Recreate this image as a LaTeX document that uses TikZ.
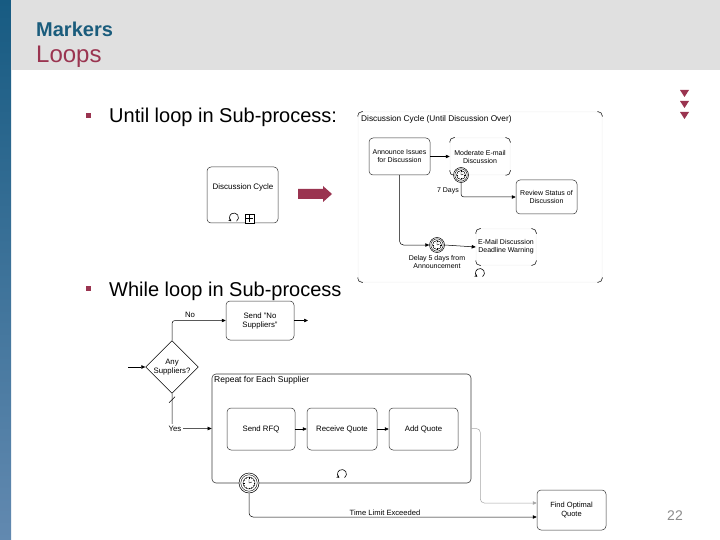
\documentclass[tikz,border=0pt]{standalone}
\usepackage{fontspec}
\setmainfont{Liberation Sans}
\usetikzlibrary{shapes.geometric,arrows.meta,calc}
\definecolor{barTop}{HTML}{175B82}
\definecolor{barBot}{HTML}{6289B0}
\definecolor{hdrgray}{HTML}{E0E0E0}
\definecolor{mkblue}{HTML}{1A5C7C}
\definecolor{crim}{HTML}{9A3450}
\newcommand\dsz{\fontsize{7}{8}\selectfont}
\newcommand\bsz{\fontsize{7.8}{9}\selectfont}
\newcommand\clockface[2]{%
 \draw[line width=0.4pt] (#1.center) circle[radius=#2*0.82pt];
 \draw[line width=0.4pt] (#1.center) circle[radius=#2*0.6pt];
 \foreach \a in {0,30,...,330}{\draw[line width=0.3pt] ($(#1.center)+(\a:#2*0.45pt)$) -- ($(#1.center)+(\a:#2*0.6pt)$);}
 \draw[line width=0.4pt] (#1.center) -- ++(0pt,#2*0.42pt) (#1.center) -- ++(#2*0.3pt,#2*0.1pt);
}
\newcommand\loopmark[1]{\draw[line width=0.6pt,-{Stealth[length=2.8pt,width=3pt]}] ($(#1)+(-55:4.5pt)$) arc[start angle=-55, end angle=235, radius=4.5pt];}
\newcommand\cornerify[2]{%
 \draw[line width=0.5pt, rounded corners=4pt] ([yshift=-#2]#1.north west) -- (#1.north west) -- ([xshift=#2]#1.north west);
 \draw[line width=0.5pt, rounded corners=4pt] ([xshift=-#2]#1.north east) -- (#1.north east) -- ([yshift=-#2]#1.north east);
 \draw[line width=0.5pt, rounded corners=4pt] ([yshift=#2]#1.south west) -- (#1.south west) -- ([xshift=#2]#1.south west);
 \draw[line width=0.5pt, rounded corners=4pt] ([xshift=-#2]#1.south east) -- (#1.south east) -- ([yshift=#2]#1.south east);
}
\begin{document}
\begin{tikzpicture}[x=1pt,y=-1pt,
  every node/.style={inner sep=0pt},
  tsk/.style={draw=black!80, line width=0.5pt, rounded corners=4pt, align=center, font=\dsz, fill=white},
  fad/.style={draw=black!6, line width=0.5pt, rounded corners=4pt, align=center, font=\dsz},
  arr/.style={-{Triangle[length=4pt,width=3.5pt]}, line width=0.5pt},
  lbl/.style={font=\dsz, align=center},
  tmr/.style={circle, draw, line width=0.5pt, fill=white, minimum size=#1, inner sep=0pt},
]
\useasboundingbox (0,0) rectangle (720,540);
\fill[white] (0,0) rectangle (720,540);
\shade[top color=barTop, bottom color=barBot] (0,0) rectangle (11,540);
\fill[hdrgray] (11,0) rectangle (720,70);
% header
\node[anchor=base west, font=\fontsize{20}{22}\selectfont\bfseries, text=mkblue] (ttlM) at (36,37) {Markers};
\node[anchor=base west, font=\fontsize{24}{28}\selectfont, text=crim] (ttlL) at (36,63) {Loops};
% triangles
\foreach \yy in {90,101,112}{\fill[crim] (680,\yy) -- (689,\yy) -- (684.5,\yy+7) -- cycle;}
% bullets
\fill[crim] (86,113) rectangle (91,118);
\node[anchor=base west, font=\fontsize{20}{24}\selectfont] (b1) at (109,123) {Until loop in Sub-process:};
\fill[crim] (86,286) rectangle (91,291);
\node[anchor=base west, font=\fontsize{20}{24}\selectfont] (b2) at (109,296) {While loop in Sub-process};
% collapsed sub-process
\node[tsk, minimum width=71pt, minimum height=56pt] (dcc) at (242.5,195) {};
\node[lbl, font=\fontsize{8}{9}\selectfont] (dcct) at (243,187) {Discussion Cycle};
\loopmark{234,217.5}
\node[draw, line width=0.5pt, minimum size=9pt, fill=white] (plus) at (249.5,218.5) {};
\draw[line width=0.5pt] ([yshift=-1.2pt]plus.north) -- ([yshift=1.2pt]plus.south) ([xshift=1.2pt]plus.west) -- ([xshift=-1.2pt]plus.east);
% fat arrow
\fill[crim] (298,189) -- (323,189) -- (323,186) -- (332,194) -- (323,202) -- (323,199) -- (298,199) -- cycle;
% expanded until-loop sub-process
\node[fad, minimum width=244pt, minimum height=170pt, rounded corners=6pt] (dc) at (480,197) {};
\cornerify{dc}{5pt}
\node[lbl, anchor=west, font=\fontsize{8.3}{9}\selectfont] (dct) at (361,119) {Discussion Cycle (Until Discussion Over)};
\node[tsk, minimum width=61pt, minimum height=37pt] (ann) at (399.5,156.5) {Announce Issues\\for Discussion};
\node[fad, minimum width=60pt, minimum height=37pt] (mod) at (480,156.5) {Moderate E-mail\\Discussion};
\cornerify{mod}{5pt}
\node[tsk, minimum width=61pt, minimum height=34pt] (rev) at (546.5,197) {Review Status of\\Discussion};
\node[fad, minimum width=60pt, minimum height=36pt] (dl) at (506,247) {E-Mail Discussion\\Deadline Warning};
\cornerify{dl}{5pt}
\draw[arr] (ann) -- (mod);
\node[tmr=15pt] (t7) at (461,175) {}; \clockface{t7}{7.5}
\draw[arr, rounded corners=3pt] (t7.south) |- (rev.west);
\node[lbl, anchor=east] (l7) at (459,191) {7 Days};
\node[tmr=15pt] (t5) at (437,245) {}; \clockface{t5}{7.5}
\draw[arr, rounded corners=4pt] (ann.south) |- (t5.west);
\draw[arr] (t5.east) -- (dl.west);
\node[lbl] (l5) at (437,262) {Delay 5 days from\\Announcement};
\loopmark{480,273}
% while loop
\coordinate (bin) at (128,367);
\node[draw, diamond, line width=0.5pt, minimum width=52pt, minimum height=52pt, align=center, font=\bsz] (dia) at (172,367) {Any\\Suppliers?};
\draw[arr] (bin) -- (dia.west);
\node[tsk, font=\bsz, minimum width=68pt, minimum height=39pt] (nos) at (260,320.5) {Send "No\\Suppliers"};
\coordinate (nout) at (308,320.5);
\draw[arr] (nos) -- (nout);
\draw[arr, rounded corners=3pt] (dia.north) |- (nos.west);
\node[lbl, font=\bsz] (lno) at (190,315) {No};
\node[draw=black!75, line width=0.6pt, rounded corners=4pt, minimum width=259pt, minimum height=109pt] (rep) at (341.5,428.5) {};
\node[anchor=north west, font=\fontsize{8.5}{10}\selectfont] (rept) at (214,376) {Repeat for Each Supplier};
\draw[arr, rounded corners=3pt] (dia.south) |- (rep.west);
\node[lbl, font=\bsz, fill=white, inner sep=1.5pt] (lyes) at (175,428.5) {Yes};
\draw[line width=0.5pt] ([xshift=-3pt,yshift=-9pt]dia.south) -- ([xshift=3pt,yshift=-3pt]dia.south);
\node[tsk, font=\bsz, minimum width=68pt, minimum height=42pt] (rfq) at (261,429) {Send RFQ};
\node[tsk, font=\bsz, minimum width=70pt, minimum height=42pt] (rq) at (342,429) {Receive Quote};
\node[tsk, font=\bsz, minimum width=69pt, minimum height=42pt] (aq) at (423.5,429) {Add Quote};
\draw[arr] (rfq) -- (rq);
\draw[arr] (rq) -- (aq);
\loopmark{342,474}
\node[tsk, font=\fontsize{7.5}{8.5}\selectfont, minimum width=69pt, minimum height=40pt] (fo) at (571.5,510) {Find Optimal\\Quote};
\draw[arr, draw=black!35, rounded corners=4pt] (rep.east) -- ++(9,0) |- ([yshift=7pt]fo.west);
\node[tmr=20pt] (tl) at (249,483) {}; \clockface{tl}{10}
\draw[arr, rounded corners=4pt] (tl.south) |- ([yshift=-7pt]fo.west);
\node[lbl, anchor=south, font=\fontsize{7.6}{8.5}\selectfont] (ltl) at (385,515.5) {Time Limit Exceeded};
% page number
\node[font=\fontsize{14}{16}\selectfont, text=black!45] (pg) at (675,516) {22};
\end{tikzpicture}
\end{document}
